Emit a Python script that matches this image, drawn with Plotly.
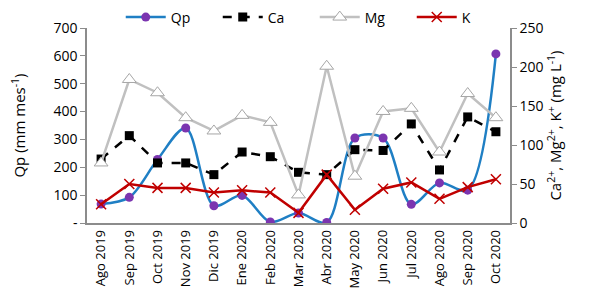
import plotly.graph_objects as go

months = ["Ago 2019", "Sep 2019", "Oct 2019", "Nov 2019", "Dic 2019", "Ene 2020", "Feb 2020",
          "Mar 2020", "Abr 2020", "May 2020", "Jun 2020", "Jul 2020", "Ago 2020", "Sep 2020", "Oct 2020"]
qp = [68, 92, 228, 341, 62, 99, 4, 36, 2, 305, 305, 67, 144, 118, 607]
ca = [82, 112, 77, 77, 62, 91, 85, 65, 62, 94, 93, 127, 68, 136, 117]
mg = [77, 184, 167, 135, 118, 138, 129, 36, 201, 60, 143, 147, 91, 166, 135]
k = [24, 50, 45, 45, 39, 42, 39, 13, 62, 17, 44, 52, 31, 46, 56]

left_ticks = [0, 100, 200, 300, 400, 500, 600, 700]
left_text = ["-", "100", "200", "300", "400", "500", "600", "700"]
right_ticks = [0, 50, 100, 150, 200, 250]

FONT = "Open Sans"
AX = "#8c8c8c"

fig = go.Figure()
fig.add_trace(go.Scatter(x=months, y=qp, name="Qp", mode="lines+markers",
                         line=dict(color="#1f7fc4", width=2.5, shape="spline", smoothing=0.9),
                         marker=dict(symbol="circle", size=9, color="#7b35b0"), yaxis="y"))
fig.add_trace(go.Scatter(x=months, y=ca, name="Ca", mode="lines+markers",
                         line=dict(color="black", width=2.5, dash="dash"),
                         marker=dict(symbol="square", size=9, color="black"), yaxis="y2"))
fig.add_trace(go.Scatter(x=months, y=mg, name="Mg", mode="lines+markers",
                         line=dict(color="#c0c0c0", width=2.5),
                         marker=dict(symbol="triangle-up", size=12, color="white",
                                     line=dict(color="#a6a6a6", width=1)), yaxis="y2"))
fig.add_trace(go.Scatter(x=months, y=k, name="K", mode="lines+markers",
                         line=dict(color="#c00000", width=2.5),
                         marker=dict(symbol="x-thin", size=10, color="#c00000",
                                     line=dict(color="#c00000", width=1.5)), yaxis="y2"))

fig.update_layout(
    width=589, height=295,
    margin=dict(l=87, r=79, t=28, b=72, autoexpand=False),
    paper_bgcolor="white", plot_bgcolor="white",
    font=dict(family=FONT, size=14, color="#000000"),
    showlegend=True,
    legend=dict(orientation="h", x=0.205, y=0.995, xref="container", yref="container",
                xanchor="left", yanchor="top",
                font=dict(size=14), itemwidth=40, entrywidth=42, entrywidthmode="pixels",
                bgcolor="rgba(0,0,0,0)", tracegroupgap=0),
    xaxis=dict(type="category", tickangle=-90, showline=True, linecolor=AX, linewidth=1.5,
               ticks="", showgrid=False, tickfont=dict(size=13), range=[-0.5, 14.5]),
    yaxis=dict(range=[0, 700], tickvals=left_ticks, ticktext=left_text, showline=True,
               linecolor=AX, linewidth=1.5, ticks="outside", ticklen=5, tickcolor=AX,
               showgrid=False, zeroline=False, tickfont=dict(size=14),
               title=dict(text="Qp (mm mes<sup>-1</sup>)", font=dict(size=15), standoff=24)),
    yaxis2=dict(range=[0, 250], tickvals=right_ticks, overlaying="y", side="right", showline=True,
                linecolor=AX, linewidth=1.5, ticks="outside", ticklen=5, tickcolor=AX,
                showgrid=False, zeroline=False, tickfont=dict(size=14),
                title=dict(text="Ca<sup>2+</sup>, Mg<sup>2+</sup>, K<sup>+</sup> (mg L<sup>-1</sup>)",
                           font=dict(size=15), standoff=8)),
)

fig.write_html("out.html", config={"displayModeBar": False},
               post_script="document.body.style.margin='0px';")
